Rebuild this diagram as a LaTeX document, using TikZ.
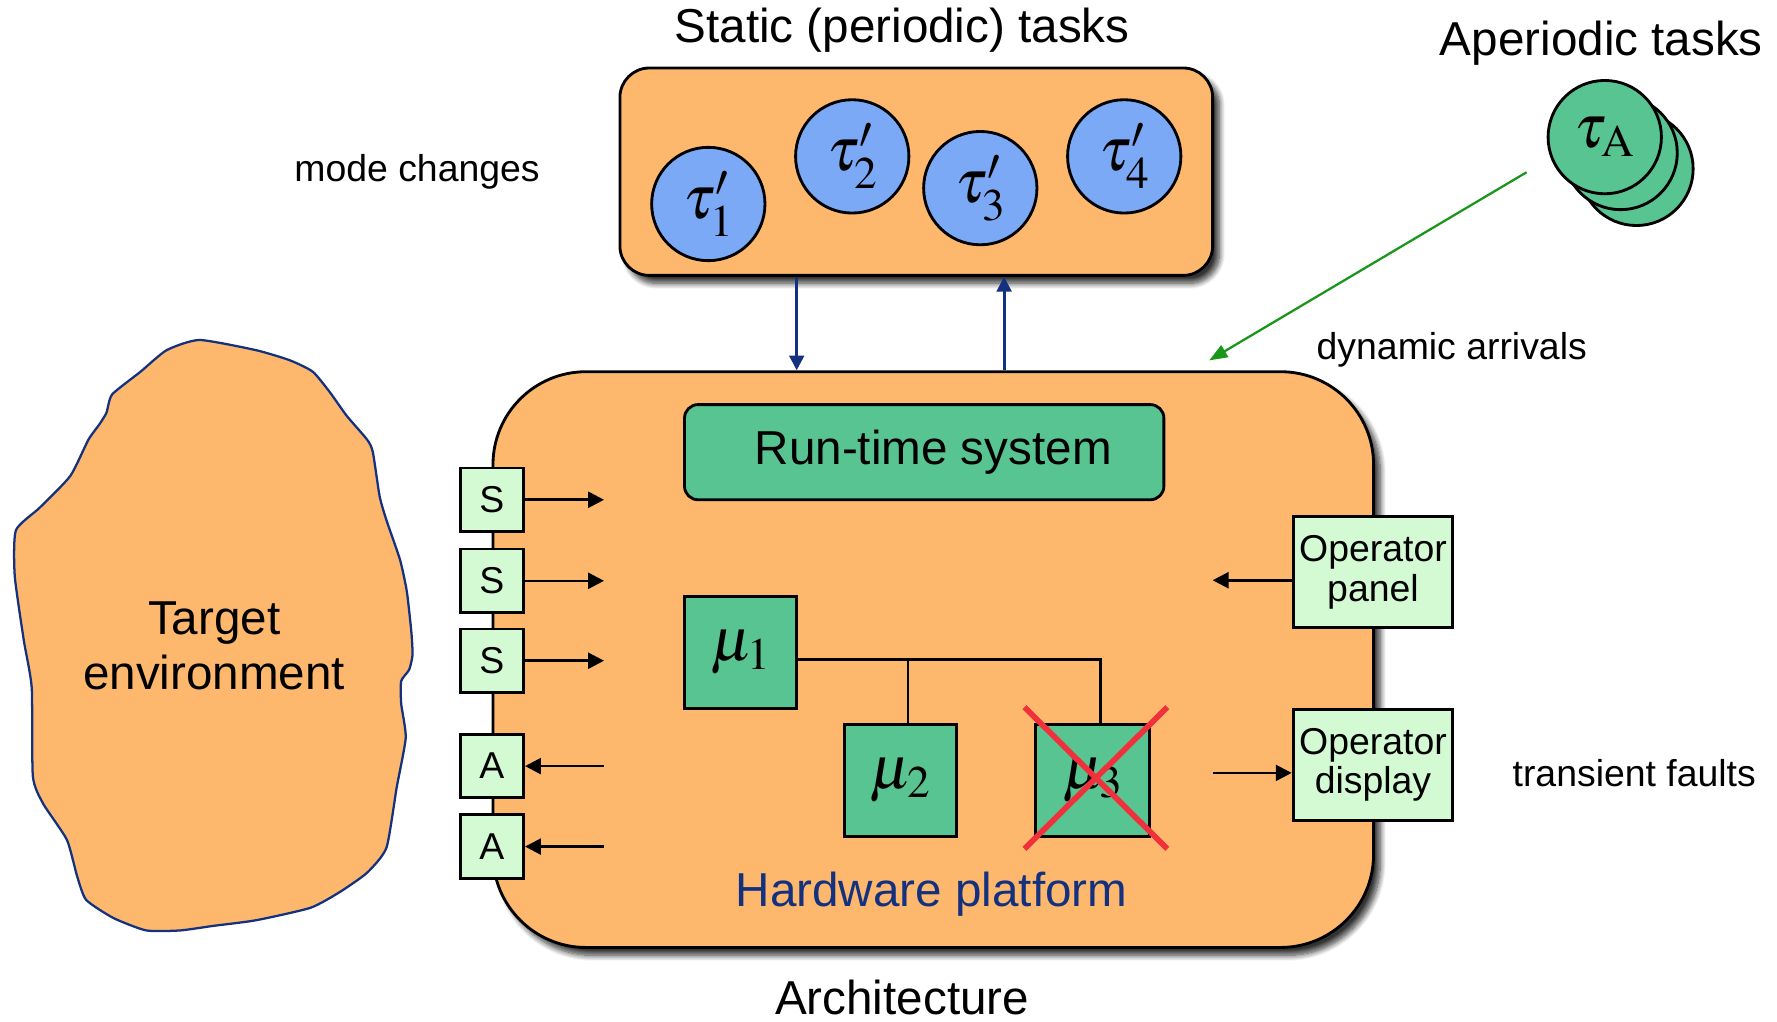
\documentclass[tikz,border=0pt]{standalone}
\usepackage{mathptmx}
\usepackage[no-math]{fontspec}
\setmainfont{Liberation Sans}
\usetikzlibrary{shadows.blur, arrows.meta}
\definecolor{orng}{HTML}{FDB86E}
\definecolor{grn}{HTML}{58C491}
\definecolor{lgrn}{HTML}{D4FAD4}
\definecolor{cblue}{HTML}{7BA9F5}
\definecolor{navy}{HTML}{13317F}
\definecolor{xred}{HTML}{F0303A}
\definecolor{arrgreen}{HTML}{1A961A}
\newcommand\myBig{\fontsize{42}{50}\selectfont}
\newcommand\myMid{\fontsize{33}{35}\selectfont}
\newcommand\myMath{\fontsize{54}{60}\selectfont}
\tikzset{
  shbox/.style={draw=black, line width=2.5pt, fill=orng, blur shadow={shadow xshift=6pt, shadow yshift=-7pt, shadow blur radius=5pt, shadow blur steps=10, shadow opacity=80}},
  taucirc/.style={circle, draw=black, line width=2.5pt, fill=cblue, minimum size=100pt, inner sep=0pt, font=\myMath},
  apcirc/.style={circle, draw=black, line width=2.5pt, fill=grn, minimum size=100pt, inner sep=0pt, font=\myMath},
  iobox/.style={rectangle, draw=black, line width=2.5pt, fill=lgrn, minimum width=56pt, minimum height=56pt, inner sep=0pt, font=\myMid},
  opbox/.style={rectangle, draw=black, line width=2.5pt, fill=lgrn, minimum width=141pt, minimum height=98pt, inner sep=0pt, align=center, font=\myMid},
  mubox/.style={rectangle, draw=black, line width=2.5pt, fill=grn, minimum width=99pt, minimum height=99pt, inner sep=0pt, font=\myMath},
  blkarrow/.style={line width=2.3pt, -{Triangle[length=14pt,width=14pt]}},
  bluearrow/.style={navy, line width=2.5pt, -{Triangle[length=13pt,width=13pt]}},
  grnarrow/.style={arrgreen, line width=2pt, -{Triangle[length=16pt,width=12pt]}},
  bus/.style={line width=2pt},
  lbl/.style={inner sep=0pt, font=\myMid},
  ttl/.style={inner sep=0pt, font=\myBig},
}
\begin{document}
\begin{tikzpicture}[x=1pt, y=-1pt]
\useasboundingbox (0,0) rectangle (1568,901);
% Target environment blob
\draw[navy, line width=2pt, fill=orng] plot[smooth cycle, tension=0.35] coordinates {
(176,300) (226,309) (256,318) (276,328) (291,346) (306,367) (324,388) (329,399)
(335,438) (341,459) (353,494) (359,522) (363,558) (364,578) (361,591) (354,601)
(354,621) (358,651) (350,695) (341,748) (324,770) (300,787) (274,801) (226,812)
(188,817) (159,821) (129,821) (100,810) (76,794) (68,773) (59,741) (38,709)
(29,685) (28,607) (21,565) (13,508) (14,468) (35,448) (62,420) (78,388) (88,374)
(94,364) (99,348) (124,328) (147,309)};
\node[ttl, align=center] (env) at (189,570) {Target\\[-2pt]environment};

% static tasks box
\node[shbox, rounded corners=26pt, minimum width=523pt, minimum height=183pt] (static) at (808.5,151.5) {};
\node[taucirc] (t1) at (625,180) {$\tau'_1$};
\node[taucirc] (t2) at (752,138) {$\tau'_2$};
\node[taucirc] (t3) at (865,166) {$\tau'_3$};
\node[taucirc] (t4) at (992,138) {$\tau'_4$};
\node[ttl] (sttl) at (796,27) {Static (periodic) tasks};
\node[lbl] (mode) at (368,152) {mode changes};

% aperiodic
\node[ttl] (attl) at (1413,38) {Aperiodic tasks};
\node[apcirc] (a3) at (1444,149) {};
\node[apcirc] (a2) at (1430,135) {};
\node[apcirc] (a1) at (1416,121) {$\tau_{\mathrm{A}}$};
\node[lbl] (dyn) at (1281,309) {dynamic arrivals};

% architecture box
\node[shbox, rounded corners=82pt, minimum width=777pt, minimum height=508pt] (arch) at (823.5,582) {};
\node[ttl] (archl) at (796,880) {Architecture};
\node[ttl, text=navy] (hw) at (822,789) {Hardware platform};
\node[rectangle, rounded corners=12pt, draw=black, line width=2.5pt, fill=grn, minimum width=423pt, minimum height=84pt] (rts) at (815.5,399) {};
\node[ttl] (rtsl) at ([xshift=8pt]rts.center) {Run-time system};

% sensors / actuators
\node[iobox] (s1) at (434,441) {S};
\node[iobox] (s2) at (434,512.5) {S};
\node[iobox] (s3) at (434,583) {S};
\node[iobox] (ac1) at (434,676) {A};
\node[iobox] (ac2) at (434,747) {A};
\coordinate (ioin) at (533,0);
\draw[blkarrow] (s1.east) -- (s1.east -| ioin);
\draw[blkarrow] (s2.east) -- (s2.east -| ioin);
\draw[blkarrow] (s3.east) -- (s3.east -| ioin);
\draw[blkarrow] (ac1.east -| ioin) -- (ac1.east);
\draw[blkarrow] (ac2.east -| ioin) -- (ac2.east);

% processors
\node[mubox] (mu1) at (653.5,575.5) {$\mu_1$};
\node[mubox] (mu2) at (794.5,688.5) {$\mu_2$};
\node[mubox, minimum width=100pt] (mu3) at (964,688.5) {$\mu_3$};
\coordinate (busy) at (0,582);
\coordinate (b2) at (801,0);
\coordinate (b3) at (971,0);
\draw[bus] (mu1.east |- busy) -- (b3 |- busy) -- (b3 |- mu3.north);
\draw[bus] (b2 |- busy) -- (b2 |- mu2.north);
\coordinate (x1) at (904,624);
\coordinate (x2) at (1030,749);
\draw[xred, line width=5pt] (x1) -- (x2);
\draw[xred, line width=5pt] (x1 -| x2) -- (x2 -| x1);

% operator boxes
\node[opbox] (panel) at (1211.5,505) {Operator\\panel};
\node[opbox] (disp) at (1211.5,675) {Operator\\display};
\coordinate (opx) at (1070,0);
\coordinate (py) at (0,512);
\coordinate (dy) at (0,682);
\draw[blkarrow] (panel.west |- py) -- (opx |- py);
\draw[blkarrow] (opx |- dy) -- (disp.west |- dy);
\node[lbl] (tf) at (1442,682) {transient faults};

% connections between task box and architecture
\coordinate (dn) at (703,0);
\coordinate (up) at (886,0);
\draw[bluearrow] (static.south -| dn) -- (arch.north -| dn);
\draw[bluearrow] (arch.north -| up) -- (static.south -| up);
\coordinate (gs) at (1347,152);
\coordinate (ge) at (1067,318);
\draw[grnarrow] (gs) -- (ge);
\end{tikzpicture}
\end{document}
